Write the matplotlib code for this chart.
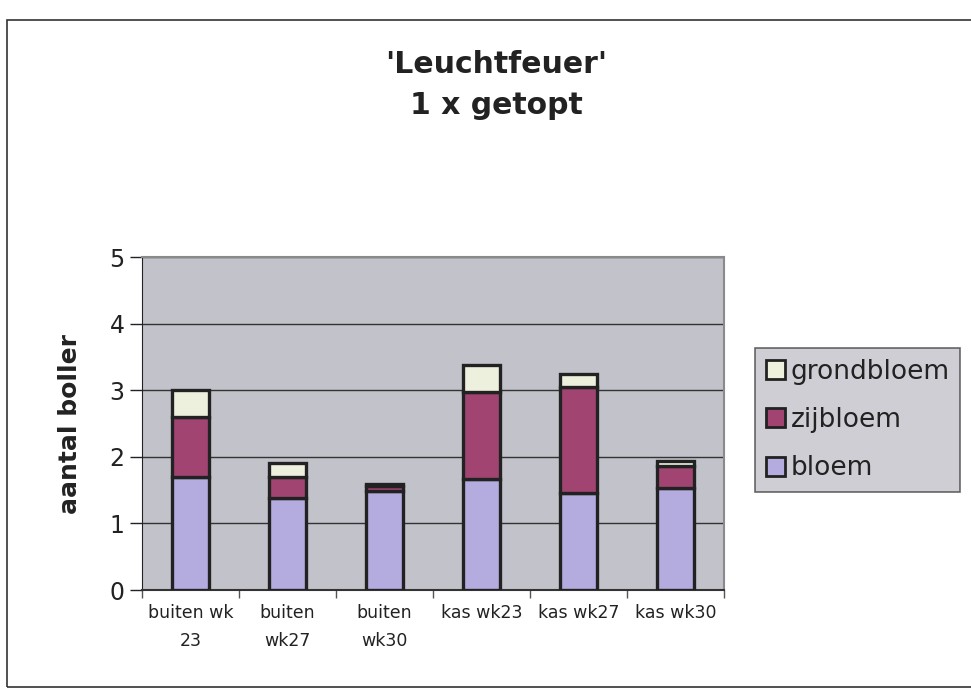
import matplotlib
matplotlib.use('Agg')
import matplotlib.pyplot as plt
from matplotlib.patches import Rectangle, Patch

# data
categories = ['buiten wk\n23', 'buiten\nwk27', 'buiten\nwk30', 'kas wk23', 'kas wk27', 'kas wk30']
bloem = [1.70, 1.38, 1.48, 1.66, 1.45, 1.53]
zijbloem = [0.90, 0.32, 0.08, 1.32, 1.60, 0.33]
grondbloem = [0.40, 0.20, 0.03, 0.40, 0.20, 0.08]

c_bloem = '#b4acde'
c_zij = '#a24472'
c_grond = '#eef0de'
c_bg = '#c2c2ca'
edge = '#222222'

plt.rcParams['font.family'] = ['DejaVu Sans']

fig = plt.figure(figsize=(9.71, 6.88), dpi=100)

# outer frame of the scanned chart
W, H = 971, 688
fig.patches.append(Rectangle((7 / W, 1 / H), 1.2, (H - 20 - 1) / H,
                             transform=fig.transFigure, fill=False,
                             edgecolor='#333333', linewidth=1.2))

ax = fig.add_axes([0.1462, 0.1424, 0.5994, 0.4840])
ax.set_facecolor(c_bg)

x = list(range(len(categories)))
bottom2 = [b + z for b, z in zip(bloem, zijbloem)]
w = 0.39
ax.bar(x, bloem, w, color=c_bloem, edgecolor=edge, linewidth=2.4, zorder=3)
ax.bar(x, zijbloem, w, bottom=bloem, color=c_zij, edgecolor=edge, linewidth=2.4, zorder=3)
ax.bar(x, grondbloem, w, bottom=bottom2, color=c_grond, edgecolor=edge, linewidth=2.4, zorder=3)

ax.set_xlim(-0.5, 5.5)
ax.set_ylim(0, 5)
ax.set_yticks([0, 1, 2, 3, 4, 5])
ax.yaxis.grid(True, color='#333333', linewidth=1.0, zorder=1)
ax.tick_params(axis='y', labelsize=17, length=9, width=1, direction='out', colors='#222222')
ax.set_xticks(x)
ax.set_xticklabels(categories, fontsize=12.5, linespacing=1.75)
ax.tick_params(axis='x', length=0, pad=10, colors='#222222')
ax.set_xticks([i - 0.5 for i in range(7)], minor=True)
ax.tick_params(axis='x', which='minor', length=6, width=1, direction='out', color='#555555')

for s in ['top', 'right']:
    ax.spines[s].set_color('#8a8a8a')
    ax.spines[s].set_linewidth(1.5)
ax.spines['left'].set_color('#222222')
ax.spines['bottom'].set_color('#333333')
ax.spines['bottom'].set_linewidth(1.5)

ax.set_ylabel('aantal boller', fontsize=18, fontweight='bold', color='#222222', labelpad=20)

fig.text(0.511, 0.927, "'Leuchtfeuer'\n1 x getopt", ha='center', va='top',
         fontsize=21.5, fontweight='bold', color='#222222', linespacing=1.5)

handles = [Patch(facecolor=c_grond, edgecolor=edge, linewidth=2),
           Patch(facecolor=c_zij, edgecolor=edge, linewidth=2),
           Patch(facecolor=c_bloem, edgecolor=edge, linewidth=2)]
leg = fig.legend(handles, ['grondbloem', 'zijbloem', 'bloem'],
                 loc='upper left', bbox_to_anchor=(0.7775, 0.4942),
                 fontsize=19, frameon=True, fancybox=False,
                 handlelength=0.75, handleheight=0.75, handletextpad=0.2,
                 labelspacing=0.85, borderpad=0.4, borderaxespad=0)
leg.get_frame().set_facecolor(c_bg)
leg.get_frame().set_edgecolor('#444444')
leg.get_frame().set_linewidth(1.2)
for t in leg.get_texts():
    t.set_color('#222222')

fig.savefig('out.png', dpi=100)
